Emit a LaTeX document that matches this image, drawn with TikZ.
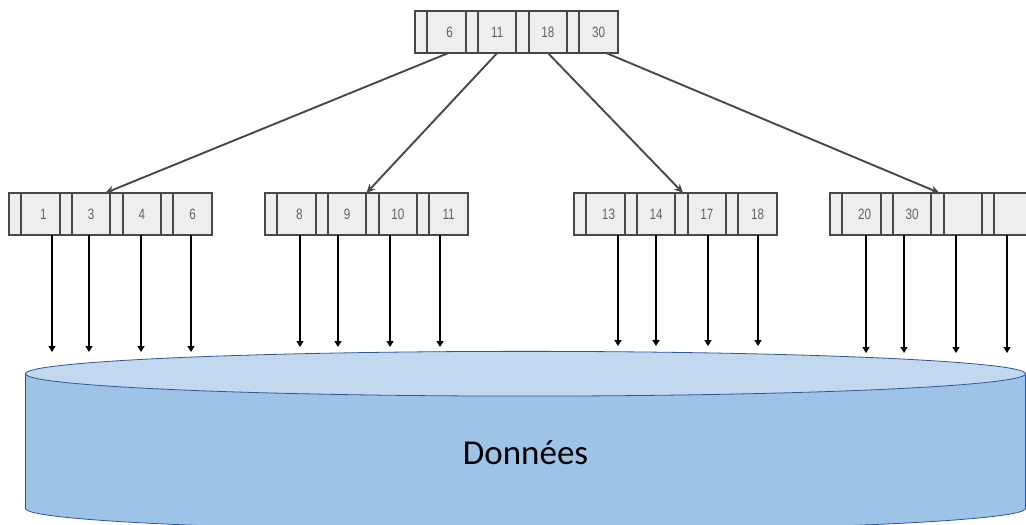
\documentclass[tikz,border=0pt]{standalone}
\usepackage{xcolor}
\usepackage{fontspec}
\setmainfont{Carlito}
\newfontfamily\cellfont[FakeStretch=0.78]{Liberation Sans}
\usepackage{tikz}
\usetikzlibrary{positioning, shapes.geometric, arrows.meta}
\definecolor{cellfill}{HTML}{EEEEEE}
\definecolor{cellline}{HTML}{484848}
\definecolor{bodyblue}{HTML}{9DC3E6}
\definecolor{topblue}{HTML}{C2D8EE}
\definecolor{rimblue}{HTML}{2F5597}
\tikzset{
	ptrcell/.style={draw=cellline, fill=cellfill, line width=1.9pt, outer sep=0pt, inner sep=0pt, minimum width=12.3pt, minimum height=42pt},
	keycell/.style={ptrcell, minimum width=38.4pt, font=\cellfont\fontsize{15}{15}\selectfont, text=cellline!85!white},
	treearrow/.style={-{Stealth[length=9pt, width=8pt]}, draw=cellline, line width=1.9pt},
	dataarrow/.style={-{Triangle[length=6pt, width=7pt]}, black, line width=1.25pt}
}
\begin{document}
\begin{tikzpicture}[x=1pt, y=-1pt, node distance=0pt]
	\path[use as bounding box, clip] (0,0) rectangle (1026,525);
	% Root page
	\node[ptrcell, anchor=west] (rp1) at (415,32) {};
	\node[keycell, right=of rp1] (rk1) {\hspace{6pt}6};
	\node[ptrcell, right=of rk1] (rp2) {};
	\node[keycell, right=of rp2] (rk2) {11};
	\node[ptrcell, right=of rk2] (rp3) {};
	\node[keycell, right=of rp3] (rk3) {18};
	\node[ptrcell, right=of rk3] (rp4) {};
	\node[keycell, right=of rp4] (rk4) {30\hspace{2pt}};
	% Leaf pages
	\node[ptrcell, anchor=west] (ap1) at (9,214) {};
	\node[keycell, right=of ap1] (ak1) {\hspace{6pt}1};
	\node[ptrcell, right=of ak1] (ap2) {};
	\node[keycell, right=of ap2] (ak2) {3\hspace{2pt}};
	\node[ptrcell, right=of ak2] (ap3) {};
	\node[keycell, right=of ap3] (ak3) {4\hspace{2pt}};
	\node[ptrcell, right=of ak3] (ap4) {};
	\node[keycell, right=of ap4] (ak4) {6\hspace{2pt}};
	\node[ptrcell, anchor=west] (bp1) at (265,214) {};
	\node[keycell, right=of bp1] (bk1) {\hspace{6pt}8};
	\node[ptrcell, right=of bk1] (bp2) {};
	\node[keycell, right=of bp2] (bk2) {9};
	\node[ptrcell, right=of bk2] (bp3) {};
	\node[keycell, right=of bp3] (bk3) {10};
	\node[ptrcell, right=of bk3] (bp4) {};
	\node[keycell, right=of bp4] (bk4) {11};
	\node[ptrcell, anchor=west] (cp1) at (574,214) {};
	\node[keycell, right=of cp1] (ck1) {\hspace{6pt}13};
	\node[ptrcell, right=of ck1] (cp2) {};
	\node[keycell, right=of cp2] (ck2) {14};
	\node[ptrcell, right=of ck2] (cp3) {};
	\node[keycell, right=of cp3] (ck3) {17};
	\node[ptrcell, right=of ck3] (cp4) {};
	\node[keycell, right=of cp4] (ck4) {18};
	\node[ptrcell, anchor=west] (dp1) at (830,214) {};
	\node[keycell, right=of dp1] (dk1) {\hspace{6pt}20};
	\node[ptrcell, right=of dk1] (dp2) {};
	\node[keycell, right=of dp2] (dk2) {30};
	\node[ptrcell, right=of dk2] (dp3) {};
	\node[keycell, right=of dp3] (dk3) {};
	\node[ptrcell, right=of dk3] (dp4) {};
	\node[keycell, right=of dp4] (dk4) {};
	% Data store
	\node[cylinder, shape border rotate=90, aspect=0.357, draw=rimblue, line width=0.8pt, minimum width=1000pt, minimum height=179.5pt, inner sep=0pt, outer sep=0pt, cylinder uses custom fill, cylinder body fill=bodyblue, cylinder end fill=topblue, font=\fontsize{35}{35}\selectfont] (store) at (525.5,452.5) {Données};
	% Arrow ends
	\coordinate (ae1) at (52,352); \coordinate (ae2) at (89,352); \coordinate (ae3) at (141,352); \coordinate (ae4) at (191,352);
	\coordinate (be1) at (300,347); \coordinate (be2) at (338,347); \coordinate (be3) at (390,347); \coordinate (be4) at (440,347);
	\coordinate (ce1) at (618,346); \coordinate (ce2) at (656,346); \coordinate (ce3) at (708,346); \coordinate (ce4) at (758,346);
	\coordinate (de1) at (866,353); \coordinate (de2) at (904,353); \coordinate (de3) at (956,353); \coordinate (de4) at (1007,353);
	% Connections
	\draw[treearrow] ([xshift=2pt]rk1.south) -- ([xshift=14pt]ak2.north);
	\draw[treearrow] (rk2.south) -- ([xshift=19.2pt]bk2.north);
	\draw[treearrow] (rk3.south) -- ([xshift=1.5pt]cp3.north);
	\draw[treearrow] ([xshift=7.5pt]rk4.south) -- ([xshift=2pt]dp3.north);
	\draw[dataarrow] (ak1.south -| ae1) -- (ae1);
	\draw[dataarrow] (ak2.south -| ae2) -- (ae2);
	\draw[dataarrow] (ak3.south -| ae3) -- (ae3);
	\draw[dataarrow] (ak4.south -| ae4) -- (ae4);
	\draw[dataarrow] (bk1.south -| be1) -- (be1);
	\draw[dataarrow] (bk2.south -| be2) -- (be2);
	\draw[dataarrow] (bk3.south -| be3) -- (be3);
	\draw[dataarrow] (bk4.south -| be4) -- (be4);
	\draw[dataarrow] (ck1.south -| ce1) -- (ce1);
	\draw[dataarrow] (ck2.south -| ce2) -- (ce2);
	\draw[dataarrow] (ck3.south -| ce3) -- (ce3);
	\draw[dataarrow] (ck4.south -| ce4) -- (ce4);
	\draw[dataarrow] (dk1.south -| de1) -- (de1);
	\draw[dataarrow] (dk2.south -| de2) -- (de2);
	\draw[dataarrow] (dk3.south -| de3) -- (de3);
	\draw[dataarrow] (dk4.south -| de4) -- (de4);
\end{tikzpicture}
\end{document}
